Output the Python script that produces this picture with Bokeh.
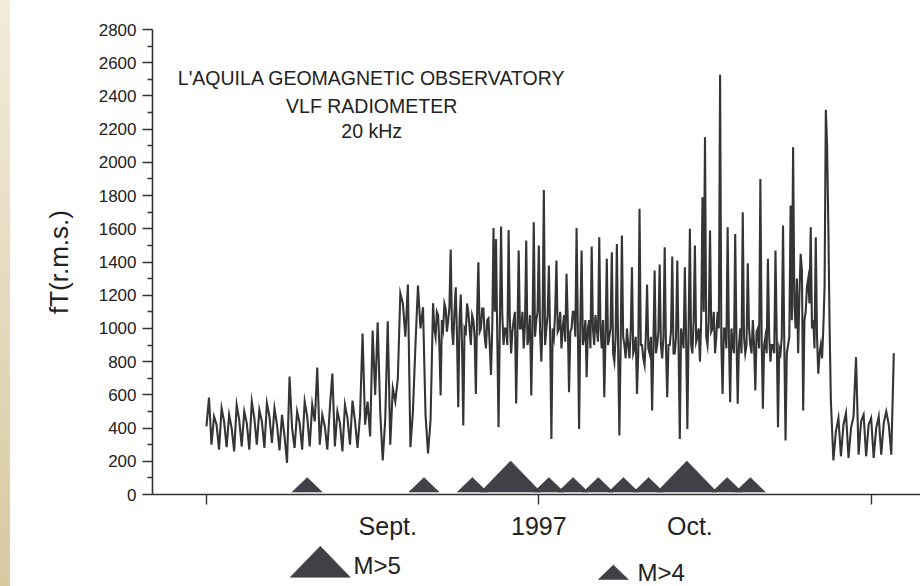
from bokeh.plotting import figure
from bokeh.models import Range1d, LinearAxis, FixedTicker, Label, Spacer
from bokeh.layouts import row, column
from bokeh.embed import file_html
from bokeh.resources import INLINE
from bokeh.core.properties import value

FONT = "Liberation Sans"
INK = "#333333"
TRACE = "#353537"
QUAKE_FILL = "#404046"

# ---------------- data ----------------
# quiet period + rise: 4 readings per day, from day 0
quiet_start_day, quiet_step = 0.0, 0.25
ft_quiet = [
    410, 584, 300, 470, 420, 270, 520, 440, 285, 480,
    400, 260, 540, 450, 290, 500, 430, 270, 560, 460,
    300, 510, 440, 280, 550, 470, 310, 520, 420, 265,
    480, 350, 190, 710, 400, 280, 500, 430, 270, 560,
    470, 290, 540, 440, 764, 300, 480, 410, 270, 520,
    728, 290, 500, 430, 260, 540, 460, 300, 566, 440,
    280,
    480, 969, 420, 560, 350, 987, 600, 1037, 500, 205,
    450, 1043, 300, 640, 560, 700, 1212, 1150, 950, 1264,
    285, 500, 900, 1258, 1000, 1128, 480, 247, 450,
]

# active period: 8 readings per day, from day 22.5
active_start_day, active_step = 22.5, 0.125
ft_active = [
    1152, 1000, 950, 1100, 1080, 900, 596, 1050, 1000, 1150, 1120, 980, 1050, 1130, 1475, 1000, 900, 1100, 1248, 950,
    526, 1050, 1204, 900, 415, 1000, 980, 1150, 1100, 1000, 900, 1080, 1050, 950, 606, 1100, 1399, 980, 1000, 1120,
    1120, 950, 880, 1050, 1060, 900, 720, 1000, 1605, 1100, 1539, 950, 405, 1000, 1613, 1080, 900, 1000, 1000, 900,
    1593, 1050, 850, 980, 1050, 1100, 548, 950, 1469, 1000, 1000, 1100, 880, 1020, 1529, 900, 950, 1080, 596, 1000,
    1639, 950, 1050, 1100, 1499, 980, 800, 1050, 1834, 900, 1000, 1080, 1379, 950, 335, 1000, 950, 1100, 1409, 980,
    1000, 1100, 880, 1000, 1080, 920, 1329, 1050, 616, 980, 1000, 1100, 1100, 950, 1605, 1000, 395, 1050, 1469, 900,
    950, 1050, 706, 1000, 1050, 880, 1493, 1000, 900, 1080, 1000, 920, 1549, 1000, 880, 1050, 586, 950, 1419, 900,
    950, 1000, 1459, 850, 800, 950, 1509, 880, 355, 900, 1559, 950, 900, 820, 1000, 900, 820, 980, 1369, 850,
    880, 950, 606, 850, 1720, 900, 900, 820, 780, 950, 1264, 880, 850, 950, 506, 900, 1348, 850, 900, 980,
    1385, 900, 820, 950, 1489, 880, 586, 900, 900, 980, 1433, 850, 850, 950, 1409, 900, 335, 1000, 950, 880,
    1369, 950, 395, 1000, 1600, 900, 850, 1050, 1499, 920, 950, 1000, 800, 1050, 1790, 1100, 2151, 950, 900, 1050,
    1589, 980, 1000, 1100, 850, 950, 1100, 1000, 2528, 900, 606, 1000, 1000, 880, 1609, 950, 556, 1000, 900, 850,
    1569, 950, 546, 900, 1000, 850, 1700, 950, 850, 900, 1393, 1000, 900, 850, 1050, 900, 626, 980, 1000, 880,
    1900, 950, 516, 900, 950, 850, 1419, 950, 800, 900, 900, 850, 1469, 950, 405, 880, 850, 950, 1619, 900,
    325, 850, 900, 950, 1740, 1050, 2091, 1150, 1000, 1300, 850, 1200, 1449, 1350, 506, 1050, 1100, 1250, 1300, 1150,
    1609, 1000, 1050, 880, 1549, 950, 727, 850, 900, 820, 1000, 1250, 2316, 2100, 1609, 1000, 566,
]

# quiet again: 4 readings per day, from day 62.25
late_start_day, late_step = 62.25, 0.25
ft_late = [
    205, 380, 460, 230, 420, 490, 220, 400, 470, 827,
    240, 440, 480, 230, 420, 460, 220, 400, 470, 240,
    430, 500, 420, 240, 851,
]

days, ft_rms = [], []
for start, step, vals in ((quiet_start_day, quiet_step, ft_quiet),
                          (active_start_day, active_step, ft_active),
                          (late_start_day, late_step, ft_late)):
    days += [start + i * step for i in range(len(vals))]
    ft_rms += vals

quake_day = [10.0, 21.6, 26.4, 30.2, 34.0, 36.4, 38.9, 41.4, 43.9, 47.7, 51.7, 54.0]
quake_class = ["M>4", "M>4", "M>4", "M>5", "M>4", "M>4", "M>4", "M>4", "M>4",
               "M>5", "M>4", "M>4"]

axis_tick_days = [0, 33, 66]
month_label_days = [18, 33, 48]
month_labels = ["Sept.", "1997", "Oct."]

y_major_ticks = list(range(0, 2801, 200))
y_minor_ticks = list(range(100, 2800, 200))

title_lines = ["L'AQUILA GEOMAGNETIC OBSERVATORY", "VLF RADIOMETER", "20 kHz"]
legend_classes = ["M>5", "M>4"]

# triangle (width in days, height in fT) per magnitude class
TRI = {"M>5": (5.96, 187), "M>4": (2.98, 87)}

# ---------------- main chart ----------------
p = figure(width=910, height=545,
           x_range=Range1d(-5.36, 70.9), y_range=Range1d(0, 2800),
           x_axis_type=None, y_axis_type=None,
           output_backend="svg", toolbar_location=None,
           min_border_left=142, min_border_right=0,
           min_border_top=29, min_border_bottom=51)
p.outline_line_color = None
p.background_fill_color = "white"
p.border_fill_color = "white"

yaxis = LinearAxis(ticker=FixedTicker(ticks=y_major_ticks, minor_ticks=y_minor_ticks),
                   axis_label="fT(r.m.s.)")
yaxis.axis_line_color = INK
yaxis.axis_line_width = 1.6
yaxis.major_tick_line_color = INK
yaxis.major_tick_line_width = 1.4
yaxis.minor_tick_line_color = INK
yaxis.minor_tick_line_width = 1.3
yaxis.major_tick_in = 0
yaxis.major_tick_out = 10
yaxis.minor_tick_in = 0
yaxis.minor_tick_out = 5
yaxis.major_label_text_font = FONT
yaxis.major_label_text_font_size = "17px"
yaxis.major_label_text_color = "#222222"
yaxis.major_label_standoff = 6
yaxis.axis_label_text_font = FONT
yaxis.axis_label_text_font_size = "26px"
yaxis.axis_label_text_font_style = "normal"
yaxis.axis_label_text_color = "#222222"
yaxis.axis_label_standoff = 22
p.add_layout(yaxis, "left")

xticks_axis = LinearAxis(ticker=FixedTicker(ticks=axis_tick_days, minor_ticks=[]))
xticks_axis.axis_line_color = INK
xticks_axis.axis_line_width = 1.6
xticks_axis.major_tick_line_color = INK
xticks_axis.major_tick_line_width = 1.4
xticks_axis.major_tick_in = 0
xticks_axis.major_tick_out = 10
xticks_axis.major_label_text_font_size = "1px"
xticks_axis.major_label_text_color = None
xticks_axis.major_label_standoff = 0
p.add_layout(xticks_axis, "below")

overrides = {}
for d, lab in zip(month_label_days, month_labels):
    overrides[d] = lab
    overrides[str(d)] = lab
xlabel_axis = LinearAxis(ticker=FixedTicker(ticks=month_label_days, minor_ticks=[]),
                         major_label_overrides=overrides)
xlabel_axis.axis_line_color = None
xlabel_axis.major_tick_line_color = None
xlabel_axis.minor_tick_line_color = None
xlabel_axis.major_tick_in = 0
xlabel_axis.major_tick_out = 0
xlabel_axis.major_label_text_font = FONT
xlabel_axis.major_label_text_font_size = "25px"
xlabel_axis.major_label_text_color = "#222222"
xlabel_axis.major_label_standoff = 7
p.add_layout(xlabel_axis, "below")

p.line(days, ft_rms, line_color=TRACE, line_width=2.1, line_join="miter")

BASE = 15
xs, ys = [], []
for d, cls in zip(quake_day, quake_class):
    w, h = TRI[cls]
    xs.append([d - w / 2, d, d + w / 2])
    ys.append([BASE, BASE + h, BASE])
p.patches(xs, ys, fill_color=QUAKE_FILL, line_color=QUAKE_FILL, line_width=0.6)

title_baselines = [2508, 2340, 2186]
for txt, yb in zip(title_lines, title_baselines):
    p.add_layout(Label(x=16.4, y=yb, text=txt, text_align="center",
                       text_baseline="alphabetic", text_font=FONT,
                       text_font_size="19.5px", text_color="#222222"))

# ---------------- legend strip ----------------
p2 = figure(width=910, height=41, x_range=p.x_range, y_range=Range1d(-247, 0),
            x_axis_type=None, y_axis_type=None,
            output_backend="svg", toolbar_location=None,
            min_border_left=142, min_border_right=0,
            min_border_top=0, min_border_bottom=0)
p2.outline_line_color = None
p2.background_fill_color = "white"
p2.border_fill_color = "white"

leg_center = [11.3, 40.4]
leg_base = [-191, -205]
lxs, lys = [], []
for cls, c, b in zip(legend_classes, leg_center, leg_base):
    w, h = TRI[cls]
    lxs.append([c - w / 2, c, c + w / 2])
    lys.append([b, b + h, b])
p2.patches(lxs, lys, fill_color=QUAKE_FILL, line_color=QUAKE_FILL, line_width=0.6)
p2.text(x=[14.6, 42.8], y=[-120, -163], text=legend_classes,
        text_font=value(FONT), text_font_size="24px", text_color="#222222",
        text_align="left", text_baseline="alphabetic")

strip = Spacer(width=10, height=586,
               styles={"background": "linear-gradient(#f3ecda, #d8c9a3)"})

layout = row(strip, column(p, p2))
open("out.html", "w").write(file_html(layout, INLINE))
